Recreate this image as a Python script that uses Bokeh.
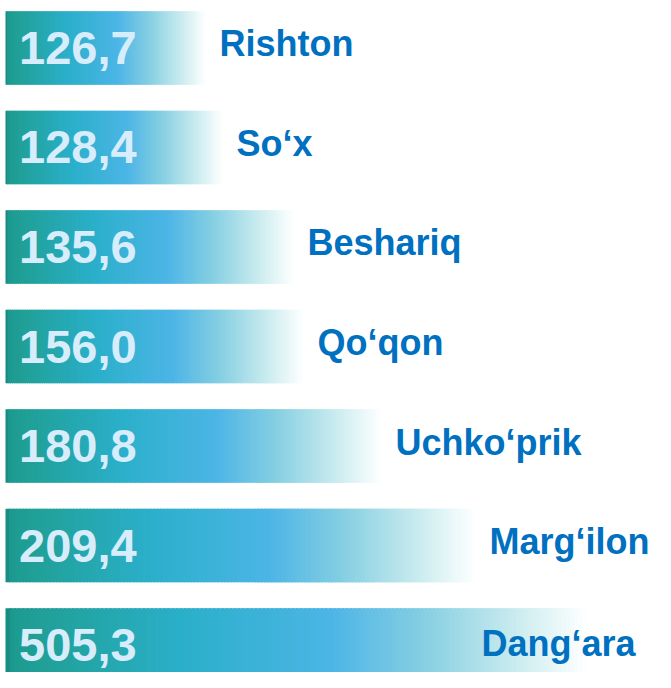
import numpy as np
from bokeh.plotting import figure
from bokeh.models import ColumnDataSource, Range1d
from bokeh.core.properties import value
from bokeh.embed import file_html
from bokeh.resources import INLINE

# ---- data ----
districts = ["Rishton", "So\u2018x", "Beshariq", "Qo\u2018qon", "Uchko\u2018prik", "Marg\u2018ilon", "Dang\u2018ara"]
values = [126.7, 128.4, 135.6, 156.0, 180.8, 209.4, 505.3]
# displayed bar extents as drawn in the infographic (not proportional to value)
bar_length = [200, 217, 288, 298, 376, 470, 581]

# ---- style ----
stops = [
    (0.000, "#13867c"),
    (0.012, "#1d9a90"),
    (0.060, "#20a097"),
    (0.300, "#2aafc9"),
    (0.560, "#4cb5e6"),
    (0.720, "#86cfe2"),
    (0.870, "#c6eaee"),
    (1.000, "#ffffff"),
]
BAR_H = 0.74
N_SLICES = 140
W, H = 655, 672


def hex2rgb(h):
    h = h.lstrip("#")
    return np.array([int(h[i:i + 2], 16) for i in (0, 2, 4)], dtype=float)


sp = np.array([s[0] for s in stops])
sc = np.array([hex2rgb(s[1]) for s in stops])


def grad_color(t):
    rgb = [np.interp(t, sp, sc[:, c]) for c in range(3)]
    return "#%02x%02x%02x" % tuple(int(round(v)) for v in rgb)


n = len(districts)
idx = np.arange(n)

# gradient slices for every bar
L_, R_, B_, T_, C_ = [], [], [], [], []
for i, L in enumerate(bar_length):
    step = L / N_SLICES
    for k in range(N_SLICES):
        L_.append(k * step)
        R_.append(min((k + 1.6) * step, L))
        B_.append(i - BAR_H / 2)
        T_.append(i + BAR_H / 2)
        C_.append(grad_color((k + 0.5) / N_SLICES))
slices = ColumnDataSource(dict(left=L_, right=R_, bottom=B_, top=T_, color=C_))

X0 = -5
p = figure(width=W, height=H, output_backend="svg", toolbar_location=None,
           x_range=Range1d(X0, X0 + W), y_range=Range1d(6.276, -0.477),
           x_axis_location=None, y_axis_location=None, min_border=0,
           background_fill_color="white", border_fill_color="white")
p.outline_line_color = None
p.grid.visible = False

p.quad(left="left", right="right", bottom="bottom", top="top", source=slices,
       fill_color="color", line_color=None)

# value labels inside bars
val_src = ColumnDataSource(dict(
    x=[13.5] * n, y=idx, text=[f"{v:.1f}".replace(".", ",") for v in values]))
p.text(x="x", y="y", text="text", source=val_src,
       text_font=value("Liberation Sans"), text_font_style="bold",
       text_font_size="47px", text_color="#d8edfc",
       text_align="left", text_baseline="middle")

# district labels
longest = int(np.argmax(bar_length))
others = [i for i in range(n) if i != longest]
lab_src = ColumnDataSource(dict(
    x=[bar_length[i] + 14 for i in others], y=[idx[i] for i in others],
    text=[districts[i] for i in others]))
p.text(x="x", y="y", text="text", source=lab_src, y_offset=-4,
       text_font=value("Liberation Sans"), text_font_style="bold",
       text_font_size="36px", text_color="#0070c0",
       text_align="left", text_baseline="middle")
lab2 = ColumnDataSource(dict(x=[X0 + W - 20], y=[idx[longest]], text=[districts[longest]]))
p.text(x="x", y="y", text="text", source=lab2, y_offset=-2,
       text_font=value("Liberation Sans"), text_font_style="bold",
       text_font_size="36px", text_color="#0070c0",
       text_align="right", text_baseline="middle")

open("out.html", "w").write(file_html(p, INLINE))
